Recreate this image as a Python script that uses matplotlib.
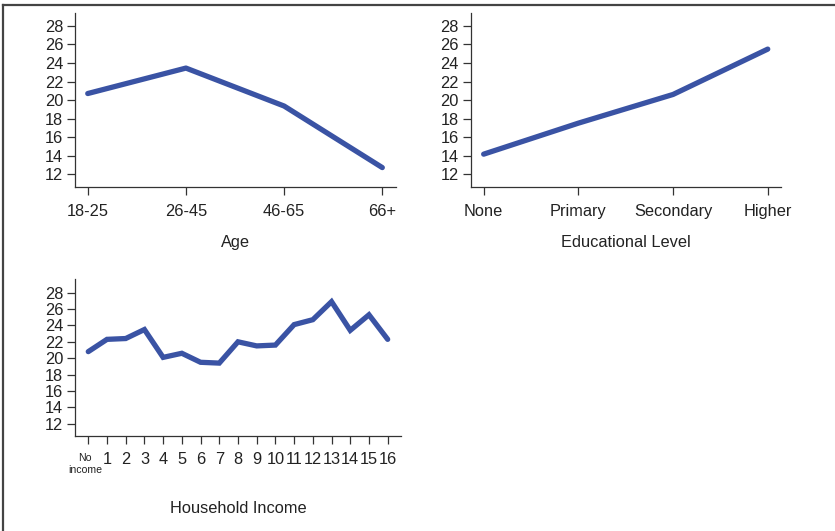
import matplotlib
matplotlib.use('Agg')
import matplotlib.pyplot as plt
import matplotlib.transforms as mtransforms
from matplotlib.lines import Line2D

plt.rcParams['font.family'] = ['Liberation Sans', 'DejaVu Sans']

# data
age_labels = ['18-25', '26-45', '46-65', '66+']
age_values = [20.7, 23.45, 19.35, 12.7]

edu_labels = ['None', 'Primary', 'Secondary', 'Higher']
edu_values = [14.15, 17.5, 20.6, 25.5]

income_labels = ['No\nincome'] + [str(i) for i in range(1, 17)]
income_values = [20.8, 22.3, 22.4, 23.5, 20.1, 20.6, 19.5, 19.4, 22.0,
                 21.5, 21.6, 24.1, 24.7, 26.9, 23.4, 25.3, 22.3]

y_ticks = [12, 14, 16, 18, 20, 22, 24, 26, 28]

LINE = '#3a53a4'
DARK = '#333333'
TXT = '#222222'
FS = 11.8


def style_axes(ax):
    for s in ['top', 'right']:
        ax.spines[s].set_visible(False)
    for s in ['left', 'bottom']:
        ax.spines[s].set_color(DARK)
        ax.spines[s].set_linewidth(0.9)
    ax.tick_params(axis='both', colors=DARK, labelcolor=TXT, labelsize=FS,
                   length=6, width=0.9)
    ax.tick_params(axis='x', pad=6)
    ax.tick_params(axis='y', pad=2.5)
    ax.set_yticks(y_ticks)


fig = plt.figure(figsize=[8.35, 5.31], dpi=100)

# outer frame (top and left edges only visible)
fig.add_artist(Line2D([3/835, 3/835], [0, 1 - 5/531], transform=fig.transFigure,
                      color='#444444', lw=1.6))
fig.add_artist(Line2D([3/835, 1], [1 - 5/531, 1 - 5/531], transform=fig.transFigure,
                      color='#444444', lw=1.6))

# Age
ax1 = fig.add_axes([0.0898, 0.6478, 0.3845, 0.3277])
ax1.plot(range(len(age_values)), age_values, color=LINE, lw=3.8, solid_capstyle='round')
style_axes(ax1)
ax1.set_xticks(range(len(age_labels)))
ax1.set_xticklabels(age_labels)
ax1.set_xlim(-0.13, 3.14)
ax1.set_ylim(10.6, 29.4)
ax1.text(0.5, -0.32, 'Age', transform=ax1.transAxes, ha='center', va='center',
         fontsize=FS, color=TXT)

# Educational level
ax2 = fig.add_axes([0.5637, 0.6478, 0.3713, 0.3277])
ax2.plot(range(len(edu_values)), edu_values, color=LINE, lw=3.8, solid_capstyle='round')
style_axes(ax2)
ax2.set_xticks(range(len(edu_labels)))
ax2.set_xticklabels(edu_labels)
ax2.set_xlim(-0.137, 3.137)
ax2.set_ylim(10.6, 29.4)
ax2.text(0.5, -0.32, 'Educational Level', transform=ax2.transAxes, ha='center',
         va='center', fontsize=FS, color=TXT)

# Household income
ax3 = fig.add_axes([0.0898, 0.1795, 0.3904, 0.2945])
ax3.plot(range(len(income_values)), income_values, color=LINE, lw=3.8,
         solid_capstyle='round', solid_joinstyle='miter')
style_axes(ax3)
ax3.set_xticks(range(len(income_labels)))
ax3.set_xticklabels([''] + income_labels[1:])
ax3.set_xlim(-0.71, 16.71)
ax3.set_ylim(10.54, 29.63)
# first category label is smaller and sits a touch left/lower than the others
shift = mtransforms.ScaledTranslation(-3/100, 0, fig.dpi_scale_trans)
ax3.text(0, -0.11, income_labels[0], transform=ax3.get_xaxis_transform() + shift,
         ha='center', va='top', fontsize=7.6, color=TXT, linespacing=1.3)
ax3.text(0.5, -0.465, 'Household Income', transform=ax3.transAxes, ha='center',
         va='center', fontsize=FS, color=TXT)

plt.savefig('out.png', dpi=100)
